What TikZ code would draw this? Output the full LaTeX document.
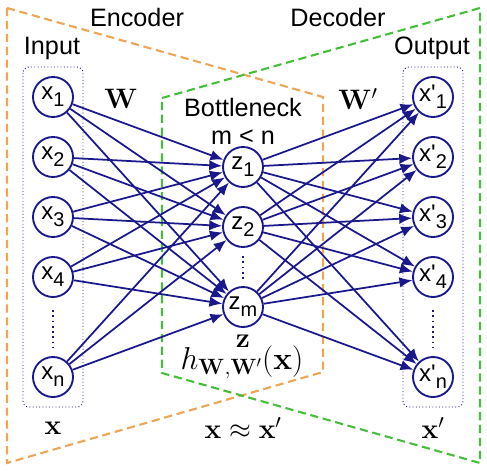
\RequirePackage{fix-cm}
\documentclass[tikz,border=0pt]{standalone}
\usepackage[no-math]{fontspec}
\setmainfont{Liberation Sans}
\usepackage{amsmath}
\usetikzlibrary{arrows.meta}

\definecolor{navy}{RGB}{25,25,140}
\definecolor{encorange}{RGB}{238,165,85}
\definecolor{decgreen}{RGB}{70,190,60}

\newcommand{\nsub}[1]{\raisebox{-0.3em}{\fontsize{17}{17}\selectfont #1}}
\newcommand{\pr}{\textquotesingle}

\begin{document}
\begin{tikzpicture}[
    x=0.03cm, y=-0.03cm,
    every node/.style={font=\fontsize{21.5}{25}\selectfont},
  ]

\tikzstyle{neuron} = [circle, draw=navy, line width=1.6pt, minimum size=1.2cm, inner sep=0pt, font=\fontsize{20.5}{24}\selectfont]

\tikzstyle{conn} = [draw=navy, line width=1.5pt, -{Latex[length=11pt,width=9pt]}]

\tikzstyle{layerbox} = [draw=navy, dotted, line width=0.8pt, rounded corners=5pt]

\tikzstyle{vdots} = [draw=navy, line width=1.5pt, dash pattern=on 1.5pt off 3pt]

\tikzstyle{encpath} = [draw=encorange, line width=1.8pt, dash pattern=on 7pt off 4pt]

\tikzstyle{decpath} = [draw=decgreen, line width=1.8pt, dash pattern=on 7pt off 4pt]

\tikzstyle{mathlbl} = [font=\fontsize{24}{28}\selectfont]

    \useasboundingbox (0,0) rectangle (487,470);

    % encoder and decoder outlines
    \draw[encpath] (7,8) -- (323,97) -- (323,372) -- (7,463) -- cycle;
    \draw[decpath] (162,98) -- (480,8) -- (480,463) -- (162,373) -- cycle;

    % layer boxes
    \draw[layerbox] (23,67) rectangle (83,407);
    \draw[layerbox] (403,67) rectangle (463,407);

    % input layer
    \node [neuron] (in1) at (53,97) {x\nsub{1}};
    \node [neuron] (in2) at (53,157) {x\nsub{2}};
    \node [neuron] (in3) at (53,217) {x\nsub{3}};
    \node [neuron] (in4) at (53,277) {x\nsub{4}};
    \node [neuron] (in5) at (53,377) {x\nsub{n}};
    \draw[vdots] (53,310) -- (53,347);

    % bottleneck
    \node [neuron] (z1) at (243,167) {z\nsub{1}};
    \node [neuron] (z2) at (243,227) {z\nsub{2}};
    \node [neuron] (z3) at (243,307) {z\nsub{m}};
    \draw[vdots] (243,256) -- (243,279);

    % output layer
    \node [neuron] (out1) at (433,97) {x\pr\nsub{1}};
    \node [neuron] (out2) at (433,157) {x\pr\nsub{2}};
    \node [neuron] (out3) at (433,217) {x\pr\nsub{3}};
    \node [neuron] (out4) at (433,277) {x\pr\nsub{4}};
    \node [neuron] (out5) at (433,377) {x\pr\nsub{n}};
    \draw[vdots] (433,310) -- (433,347);

    % weights
    \foreach \i in {1,...,5}
      \foreach \j in {1,2,3}
        \draw[conn] (in\i) -- (z\j);
    \foreach \j in {1,2,3}
      \foreach \k in {1,...,5}
        \draw[conn] (z\j) -- (out\k);

    % labels
    \node (enc) at (137,17) {Encoder};
    \node (dec) at (338,17) {Decoder};
    \node (inlbl) at (52,48) {Input};
    \node (outlbl) at (432,48) {Output};
    \node (bn) at (243,107) {Bottleneck};
    \node (mn) at (243,137) {m < n};
    \node [mathlbl] (w) at (121,99) {$\mathbf{W}$};
    \node [mathlbl] (wp) at (358,99) {$\mathbf{W}'$};
    \node [mathlbl] (zlbl) at (243,341) {$\mathbf{z}$};
    \node [mathlbl, font=\fontsize{27}{30}\selectfont] (hlbl) at (242,362) {$h_{\mathbf{W},\mathbf{W}'}(\mathbf{x})$};
    \node [mathlbl] (xlbl) at (53,428) {$\mathbf{x}$};
    \node [mathlbl] (approx) at (243,428) {$\mathbf{x}\approx\mathbf{x}'$};
    \node [mathlbl] (xplbl) at (433,428) {$\mathbf{x}'$};
\end{tikzpicture}
\end{document}
